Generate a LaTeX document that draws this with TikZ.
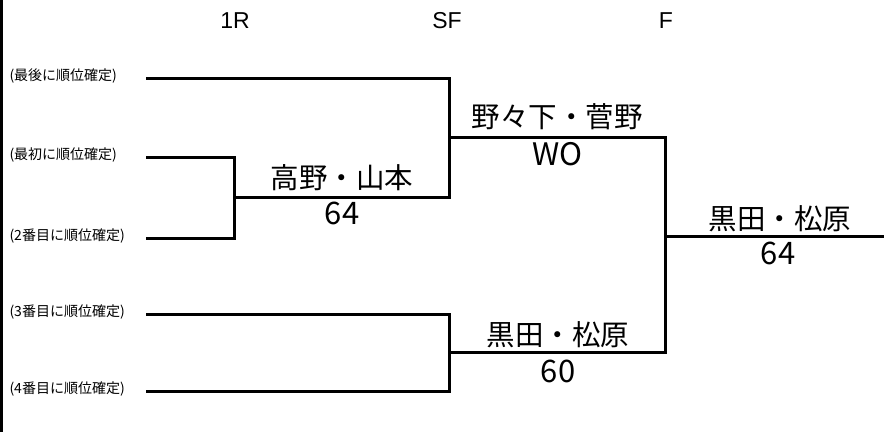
\documentclass[tikz,border=0pt]{standalone}
\usepackage{fontspec}
\setsansfont{Liberation Sans}
\newfontfamily\jpfont{Noto Sans CJK JP}
\usetikzlibrary{calc}

\begin{document}
\begin{tikzpicture}[x=1pt,y=-1pt,line width=3pt,
  entry/.style={font=\jpfont\fontsize{14}{14}\selectfont,anchor=west,inner sep=0pt},
  team/.style={font=\jpfont\fontsize{28.5}{28.5}\selectfont,inner sep=0pt},
  score/.style={font=\jpfont\fontsize{31}{31}\selectfont,inner sep=0pt},
  roundlabel/.style={font=\sffamily\fontsize{23}{23}\selectfont,inner sep=0pt}]

\useasboundingbox (0,0) rectangle (884,432);

% round titles
\node[roundlabel](H1) at (235,21) {1R};
\node[roundlabel](H2) at (447,21) {SF};
\node[roundlabel](H3) at (666,21) {F};

% draw positions
\node[entry](E1) at (8,76) {(最後に順位確定)};
\node[entry](E2) at (8,155) {(最初に順位確定)};
\node[entry](E3) at (8,236) {(2番目に順位確定)};
\node[entry](E4) at (8,312) {(3番目に順位確定)};
\node[entry](E5) at (8,389) {(4番目に順位確定)};

\coordinate (L1) at (1.5,0);
\coordinate (L2) at (1.5,432);
\coordinate (P1) at (146,78);
\coordinate (P2) at (146,157);
\coordinate (P3) at (146,238);
\coordinate (P4) at (146,314);
\coordinate (P5) at (146,391);
\coordinate (A) at (234,197);
\coordinate (B) at (449,137);
\coordinate (C) at (449,352);
\coordinate (D) at (665,236);
\coordinate (W) at (884,236);

% bracket
\draw (L1) -- (L2);
\draw (P2) -| (A) |- (P3);
\draw (P1) -| (B) |- (A);
\draw (P4) -| (C) |- (P5);
\draw (B) -| (D) |- (C);
\draw (D) -- (W);

% winners and scores
\node[team](T1) at ($(A)+(108,-19)$) {高野・山本};
\node[score](S1) at ($(A)+(108,16)$) {64};
\node[team](T2) at ($(B)+(108,-20)$) {野々下・菅野};
\node[score](S2) at ($(B)+(108,17)$) {WO};
\node[team](T3) at ($(C)+(109,-17)$) {黒田・松原};
\node[score](S3) at ($(C)+(109,19)$) {60};
\node[team](T4) at ($(D)+(115,-17)$) {黒田・松原};
\node[score](S4) at ($(D)+(113,17)$) {64};

\end{tikzpicture}
\end{document}
